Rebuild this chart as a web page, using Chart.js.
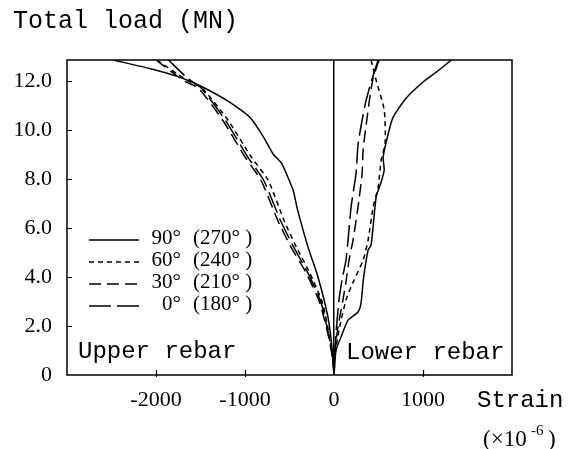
<!DOCTYPE html>
<html>
<head>
<meta charset="utf-8">
<script src="https://cdn.jsdelivr.net/npm/chart.js@4.4.0/dist/chart.umd.min.js"></script>
<style>
  body { margin: 0; background: #fff; }
  #wrap { width: 579px; height: 449px; position: relative; }
</style>
</head>
<body>
<div id="wrap"><canvas id="loadChart"></canvas></div>
<script>
// [strain (x10^-6), total load (MN)]
const upper90 = [[-2480,12.86],[-2060,12.5],[-1730,12.15],[-1500,11.8],[-1200,11.2],[-940,10.5],[-790,9.7],[-680,9.0],[-590,8.65],[-460,7.55],[-410,6.75],[-290,5.2],[-180,4.0],[-70,2.4],[-25,1.2],[0,0]];
const upper60 = [[-1990,12.86],[-1660,12.05],[-1480,11.7],[-1190,10.4],[-930,8.9],[-740,7.95],[-560,6.3],[-420,5.2],[-270,4.15],[-130,2.95],[-50,1.55],[-10,0.6],[0,0]];
const upper30 = [[-2000,12.86],[-1680,12.0],[-1520,11.7],[-1250,10.4],[-1000,8.9],[-820,7.95],[-630,6.3],[-480,5.2],[-310,4.15],[-160,2.95],[-60,1.55],[-12,0.6],[0,0]];
const upper0  = [[-1860,12.86],[-1640,12.1],[-1500,11.75],[-1220,10.4],[-970,8.9],[-790,7.95],[-600,6.3],[-450,5.2],[-290,4.15],[-145,2.95],[-55,1.55],[-10,0.6],[0,0]];

const lower90 = [[1320,12.86],[1150,12.37],[1000,11.96],[810,11.3],[665,10.53],[620,10.0],[552,8.9],[564,8.37],[530,7.88],[474,7.27],[417,5.31],[383,5.1],[330,3.9],[304,2.94],[270,2.57],[158,2.24],[79,1.55],[23,1.02],[0,0]];
const lower60 = [[417,12.86],[473,12.04],[564,10.82],[575,9.47],[530,8.78],[496,7.67],[440,6.86],[383,5.51],[327,4.69],[211,3.76],[135,3.06],[56,1.84],[11,0.82],[0,0]];
const lower30 = [[507,12.86],[440,12.12],[406,11.43],[361,10.2],[327,9.18],[316,8.24],[270,6.86],[214,5.51],[169,4.69],[135,3.8],[100,3.06],[45,1.96],[11,1.02],[0,0]];
const lower0  = [[496,12.86],[440,12.24],[361,11.22],[316,10.41],[270,9.39],[248,8.24],[192,6.86],[158,5.51],[135,4.69],[90,3.88],[56,3.06],[23,1.71],[0,0]];

const angleLabels = ['90°', '60°', '30°', '0°'];
const oppositeLabels = ['(270° )', '(240° )', '(210° )', '(180° )'];

const xTicks = [-2000, -1000, 0, 1000];
const xTickLabels = ['-2000', '-1000', '0', '1000'];
const yTicks = [0, 2, 4, 6, 8, 10, 12];
const yTickLabels = ['0', '2.0', '4.0', '6.0', '8.0', '10.0', '12.0'];

const dashes = [[], [5, 4], [12, 6], [22, 6]];

function toPoints(arr) {
    return arr.map(p => ({x: p[0], y: p[1]}));
}

function makeSet(label, arr, i) {
    return {
        label: label,
        data: toPoints(arr),
        showLine: true,
        borderColor: '#000',
        borderWidth: 1.5,
        borderDash: dashes[i],
        pointRadius: 0,
        tension: 0.2,
        fill: false
    };
}

const datasets = [
    makeSet('90', upper90, 0), makeSet('60', upper60, 1), makeSet('30', upper30, 2), makeSet('0', upper0, 3),
    makeSet('90 lower', lower90, 0), makeSet('60 lower', lower60, 1), makeSet('30 lower', lower30, 2), makeSet('0 lower', lower0, 3)
];

const serif = '"Liberation Serif", "DejaVu Serif", serif';
const mono = '"Liberation Mono", "DejaVu Sans Mono", monospace';

const decorations = {
    id: 'decorations',
    afterDraw(chart) {
        const {ctx, chartArea: a, scales: {x, y}} = chart;
        ctx.save();
        ctx.strokeStyle = '#000';
        ctx.setLineDash([]);
        ctx.lineWidth = 1.5;
        ctx.strokeRect(a.left, a.top, a.right - a.left, a.bottom - a.top);

        // ticks point inward
        ctx.lineWidth = 1.2;
        ctx.beginPath();
        yTicks.forEach(v => {
            if (v === 0) return;
            const py = Math.round(y.getPixelForValue(v)) + 0.5;
            ctx.moveTo(a.left, py);
            ctx.lineTo(a.left + 5, py);
        });
        xTicks.forEach(v => {
            if (v === 0) return;
            const px = Math.round(x.getPixelForValue(v)) + 0.5;
            ctx.moveTo(px, a.bottom + 2);
            ctx.lineTo(px, a.bottom - 5);
        });
        ctx.stroke();

        // legend inside the plot
        const lx = a.left + 22;
        angleLabels.forEach((lab, i) => {
            const ly = 238 + 22 * i;
            ctx.setLineDash(dashes[i]);
            ctx.lineWidth = 1.5;
            ctx.beginPath();
            ctx.moveTo(lx, ly + 2);
            ctx.lineTo(lx + 50, ly + 2);
            ctx.stroke();
            ctx.setLineDash([]);
            ctx.fillStyle = '#000';
            ctx.font = '21px ' + serif;
            ctx.textBaseline = 'middle';
            ctx.textAlign = 'right';
            ctx.fillText(lab, lx + 92, ly);
            ctx.textAlign = 'left';
            ctx.fillText(oppositeLabels[i], lx + 104, ly);
        });

        ctx.textAlign = 'left';
        ctx.textBaseline = 'alphabetic';
        ctx.font = '25px ' + mono;
        ctx.fillText('Total load (MN)', 13, 28);
        ctx.font = '24px ' + mono;
        ctx.fillText('Upper rebar', a.left + 11, a.bottom - 17);
        ctx.fillText('Lower rebar', x.getPixelForValue(0) + 12, a.bottom - 16);
        ctx.fillText('Strain', 477, 407);

        ctx.font = '23px ' + serif;
        ctx.fillText('(×10', 483, 446);
        ctx.font = '15px ' + serif;
        ctx.fillText('-6', 531, 435);
        ctx.font = '23px ' + serif;
        ctx.fillText(')', 548, 446);
        ctx.restore();
    }
};

new Chart(document.getElementById('loadChart').getContext('2d'), {
    type: 'scatter',
    data: {datasets: datasets},
    options: {
        responsive: true,
        maintainAspectRatio: false,
        animation: false,
        layout: {padding: {left: 0, right: 67, top: 60, bottom: 0}},
        plugins: {
            legend: {display: false},
            tooltip: {enabled: false}
        },
        scales: {
            x: {
                type: 'linear',
                min: -3000,
                max: 2000,
                afterBuildTicks: function(scale) {
                    scale.ticks = xTicks.map(v => ({value: v}));
                },
                afterFit: function(scale) {
                    scale.height = 74;
                },
                ticks: {
                    padding: 12,
                    color: '#000',
                    font: {family: serif, size: 22},
                    maxRotation: 0,
                    callback: function(value, index) {
                        return xTickLabels[index];
                    }
                },
                grid: {
                    drawTicks: false,
                    lineWidth: 1.5,
                    color: function(c) {
                        return c.tick && c.tick.value === 0 ? '#000' : 'rgba(0,0,0,0)';
                    }
                },
                border: {display: false}
            },
            y: {
                type: 'linear',
                min: 0,
                max: 12.86,
                afterBuildTicks: function(scale) {
                    scale.ticks = yTicks.map(v => ({value: v}));
                },
                afterFit: function(scale) {
                    scale.width = 67;
                },
                ticks: {
                    padding: 15,
                    color: '#000',
                    font: {family: serif, size: 22},
                    callback: function(value, index) {
                        return yTickLabels[index];
                    }
                },
                grid: {drawTicks: false, display: false},
                border: {display: false}
            }
        }
    },
    plugins: [decorations]
});
</script>
</body>
</html>
